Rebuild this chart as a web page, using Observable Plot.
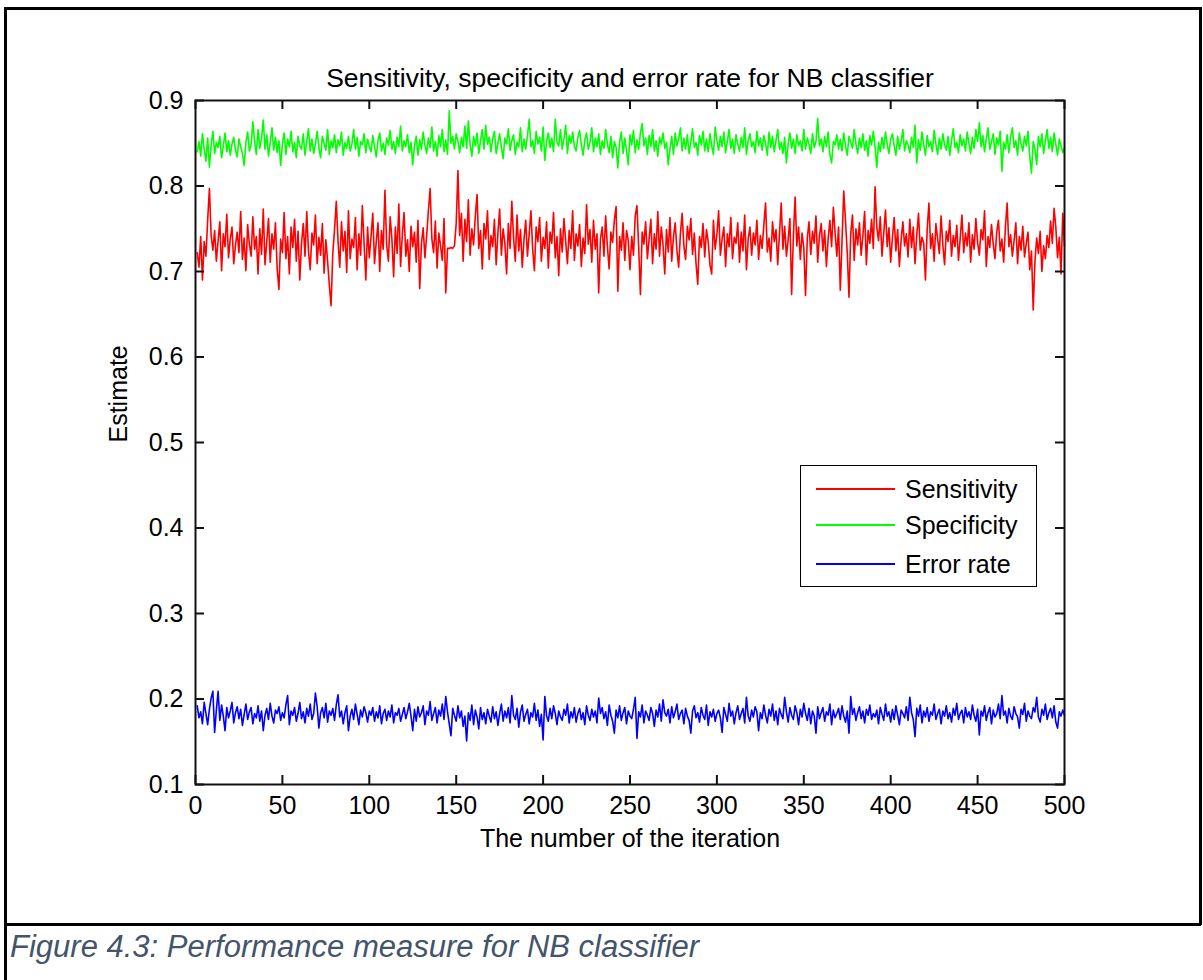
<!DOCTYPE html>
<html>
<head>
<meta charset="utf-8">
<script src="https://cdn.jsdelivr.net/npm/d3@7"></script>
<script src="https://cdn.jsdelivr.net/npm/@observablehq/plot@0.6"></script>
<style>
  html, body { margin: 0; padding: 0; background: #fff; }
  body { width: 1203px; height: 980px; position: relative; overflow: hidden; font-family: Arial, "Liberation Sans", sans-serif; }
  #chart { position: absolute; left: 0; top: 0; }
  .bl { position: absolute; background: #000; }
  #legend { position: absolute; left: 800px; top: 465px; width: 237px; height: 122px; box-sizing: border-box; border: 1.5px solid #000; background: #fff; }
  .row { position: absolute; left: 15px; height: 30px; display: flex; align-items: center; font-size: 25px; color: #000; }
  .row .sw { display: inline-block; width: 79px; height: 2px; margin-right: 10px; }
  #caption { position: absolute; left: 10px; top: 929px; font-size: 31px; font-style: italic; color: #44546a; white-space: nowrap; }
</style>
</head>
<body>
<div id="chart"></div>
<div class="bl" style="left:4px;top:7px;width:1197px;height:2.5px"></div>
<div class="bl" style="left:4px;top:7px;width:2.5px;height:973px"></div>
<div class="bl" style="left:1199px;top:7px;width:2.5px;height:918px"></div>
<div class="bl" style="left:4px;top:923px;width:1197px;height:2.5px"></div>
<div id="legend"></div>
<div id="caption"></div>
<script>
// ---- data ----
const chartTitle = "Sensitivity, specificity and error rate for NB classifier";
const xLabel = "The number of the iteration";
const yLabel = "Estimate";
const captionText = "Figure 4.3: Performance measure for NB classifier";
const seriesNames = ["Sensitivity", "Specificity", "Error rate"];
const seriesColors = ["#ff0000", "#00ff00", "#0000ff"];
const xTicks = [0, 50, 100, 150, 200, 250, 300, 350, 400, 450, 500];
const yTicks = [0.1, 0.2, 0.3, 0.4, 0.5, 0.6, 0.7, 0.8, 0.9];

const sensitivity = [
.722,.705,.741,.690,.735,.718,.760,.797,.742,.725,
.748,.712,.736,.758,.701,.744,.729,.767,.716,.738,
.752,.709,.731,.746,.722,.770,.714,.739,.701,.755,
.732,.718,.764,.726,.741,.697,.750,.720,.773,.708,
.735,.762,.711,.744,.726,.757,.703,.679,.738,.722,
.769,.715,.741,.697,.752,.728,.761,.712,.747,.690,
.733,.756,.718,.770,.724,.702,.745,.731,.766,.709,
.740,.719,.756,.698,.737,.712,.684,.660,.721,.749,
.782,.736,.705,.758,.724,.747,.699,.771,.715,.738,
.728,.763,.702,.744,.719,.777,.733,.690,.752,.716,
.741,.768,.709,.735,.757,.700,.748,.726,.795,.731,
.712,.764,.738,.694,.752,.721,.779,.706,.743,.769,
.718,.737,.700,.753,.729,.746,.711,.760,.680,.733,
.751,.716,.742,.771,.797,.738,.722,.759,.704,.745,
.730,.713,.762,.675,.727,.727,.728,.727,.730,.756,
.818,.742,.768,.712,.761,.735,.784,.719,.750,.731,
.765,.790,.727,.748,.703,.756,.738,.771,.714,.742,
.729,.761,.708,.745,.773,.719,.750,.733,.697,.756,
.727,.782,.740,.712,.766,.724,.749,.705,.737,.760,
.718,.744,.771,.726,.701,.752,.735,.763,.712,.740,
.727,.758,.704,.746,.733,.769,.716,.741,.695,.750,
.723,.762,.735,.709,.748,.727,.771,.713,.744,.730,
.755,.706,.739,.721,.778,.732,.749,.711,.760,.726,
.744,.675,.738,.752,.718,.765,.729,.703,.746,.734,
.760,.776,.677,.741,.725,.757,.713,.748,.736,.702,
.741,.719,.765,.777,.728,.673,.746,.732,.758,.715,
.738,.761,.709,.744,.726,.770,.718,.752,.731,.697,
.749,.723,.763,.712,.740,.757,.725,.705,.744,.768,
.730,.714,.753,.737,.762,.720,.745,.709,.685,.741,
.728,.756,.717,.749,.735,.708,.697,.760,.726,.743,
.771,.719,.738,.752,.706,.744,.729,.763,.715,.740,
.733,.757,.711,.746,.724,.766,.702,.738,.752,.719,
.745,.731,.760,.714,.742,.727,.754,.780,.723,.739,
.712,.758,.735,.749,.708,.744,.780,.726,.753,.718,
.737,.762,.673,.741,.787,.730,.752,.714,.745,.728,
.672,.739,.758,.720,.747,.733,.765,.711,.742,.756,
.724,.748,.706,.738,.760,.729,.775,.745,.718,.752,
.678,.736,.794,.759,.722,.670,.744,.766,.713,.750,
.731,.757,.719,.742,.770,.708,.748,.733,.761,.727,
.799,.752,.736,.764,.718,.745,.772,.729,.751,.711,
.740,.763,.724,.749,.706,.737,.758,.730,.744,.717,
.761,.728,.752,.709,.743,.768,.725,.740,.733,.690,
.750,.780,.727,.744,.712,.756,.738,.721,.765,.731,
.708,.747,.735,.760,.718,.742,.729,.754,.713,.739,
.766,.722,.745,.730,.757,.711,.743,.726,.762,.734,
.719,.749,.737,.771,.706,.741,.728,.755,.732,.715,
.746,.760,.724,.738,.711,.752,.780,.729,.743,.718,
.736,.757,.709,.741,.725,.753,.717,.733,.746,.702,
.724,.655,.712,.739,.721,.747,.700,.730,.715,.742,
.728,.759,.733,.774,.752,.716,.740,.697,.768,.730];

const specificity = [
.840,.852,.835,.861,.843,.829,.856,.822,.848,.864,
.838,.851,.845,.858,.833,.847,.862,.840,.853,.836,
.849,.857,.842,.834,.855,.846,.838,.824,.851,.863,
.841,.848,.875,.852,.837,.866,.844,.856,.877,.843,
.860,.835,.851,.868,.842,.857,.839,.853,.824,.849,
.862,.837,.855,.846,.864,.840,.851,.833,.858,.847,
.843,.861,.836,.852,.867,.841,.855,.838,.849,.864,
.845,.833,.858,.850,.842,.866,.837,.853,.845,.860,
.839,.854,.847,.863,.836,.851,.844,.858,.841,.849,
.866,.843,.857,.835,.852,.848,.861,.839,.855,.846,
.840,.859,.846,.834,.853,.862,.841,.850,.837,.856,
.848,.865,.843,.852,.838,.857,.846,.870,.841,.853,
.846,.860,.839,.851,.825,.847,.858,.836,.854,.843,
.863,.848,.838,.856,.845,.869,.841,.852,.835,.859,
.846,.866,.840,.854,.837,.888,.850,.858,.843,.861,
.852,.839,.857,.846,.870,.844,.876,.849,.835,.858,
.847,.862,.838,.853,.866,.843,.871,.849,.857,.840,
.855,.864,.838,.850,.861,.845,.832,.856,.849,.867,
.842,.853,.860,.837,.851,.846,.868,.840,.855,.843,
.859,.878,.846,.853,.838,.864,.849,.857,.841,.869,
.830,.852,.862,.845,.856,.840,.878,.851,.847,.866,
.843,.855,.871,.838,.859,.850,.863,.846,.841,.857,
.865,.848,.836,.854,.862,.843,.851,.868,.840,.856,
.846,.861,.837,.853,.844,.866,.849,.839,.858,.833,
.852,.845,.821,.851,.863,.838,.856,.842,.825,.860,
.848,.865,.839,.854,.843,.862,.873,.847,.856,.837,
.859,.846,.866,.841,.853,.835,.857,.849,.862,.844,
.851,.825,.843,.858,.837,.862,.847,.855,.868,.841,
.856,.843,.860,.838,.852,.867,.845,.851,.836,.859,
.848,.864,.841,.855,.840,.861,.847,.837,.869,.853,
.842,.858,.846,.863,.839,.852,.866,.844,.855,.838,
.860,.849,.841,.857,.845,.868,.837,.853,.861,.846,
.852,.839,.864,.847,.856,.842,.859,.850,.836,.863,
.845,.858,.840,.853,.866,.843,.851,.838,.857,.827,
.849,.862,.844,.855,.838,.860,.847,.853,.841,.866,
.843,.856,.849,.838,.861,.845,.852,.879,.847,.855,
.840,.858,.846,.863,.837,.827,.852,.848,.860,.843,
.855,.841,.862,.847,.836,.858,.851,.844,.866,.849,
.838,.856,.845,.861,.842,.853,.835,.859,.848,.864,
.846,.822,.851,.840,.857,.844,.863,.849,.838,.855,
.861,.847,.836,.858,.843,.852,.866,.841,.853,.848,
.839,.857,.845,.871,.827,.854,.842,.863,.848,.836,
.859,.846,.852,.840,.865,.849,.837,.856,.843,.861,
.848,.842,.858,.836,.853,.867,.845,.851,.839,.860,
.847,.855,.841,.863,.850,.838,.857,.844,.866,.852,
.874,.846,.859,.840,.855,.868,.843,.852,.861,.837,
.856,.848,.864,.817,.851,.843,.860,.839,.857,.868,
.845,.853,.836,.862,.849,.841,.858,.847,.864,.835,
.815,.852,.843,.825,.858,.846,.861,.838,.853,.866,
.844,.857,.840,.862,.849,.836,.855,.847,.839,.845];

const errorRate = [
.192,.178,.185,.171,.196,.183,.170,.188,.201,.209,
.161,.187,.209,.175,.193,.180,.163,.190,.178,.186,
.196,.172,.184,.191,.177,.188,.169,.182,.194,.176,
.185,.190,.171,.183,.178,.192,.174,.186,.163,.181,
.189,.176,.195,.180,.172,.187,.183,.191,.175,.184,
.178,.193,.204,.170,.186,.181,.190,.174,.183,.196,
.177,.185,.172,.189,.180,.194,.176,.183,.207,.191,
.166,.184,.190,.178,.195,.173,.186,.181,.189,.175,
.193,.205,.179,.186,.171,.184,.192,.163,.180,.188,
.176,.194,.182,.170,.187,.179,.191,.184,.173,.186,
.181,.190,.174,.185,.178,.192,.171,.183,.188,.175,
.186,.179,.193,.172,.184,.181,.189,.174,.182,.190,
.177,.185,.195,.180,.163,.188,.174,.191,.179,.184,
.192,.170,.186,.181,.197,.175,.183,.190,.172,.187,
.180,.194,.176,.203,.185,.171,.157,.189,.181,.174,
.192,.178,.186,.168,.180,.151,.184,.175,.193,.170,
.187,.179,.165,.190,.176,.184,.171,.188,.180,.173,
.191,.177,.185,.169,.183,.194,.174,.186,.178,.190,
.172,.204,.181,.176,.189,.167,.185,.193,.174,.182,
.188,.171,.184,.179,.195,.175,.187,.168,.182,.152,
.203,.180,.174,.189,.177,.192,.183,.170,.186,.179,
.175,.188,.181,.194,.172,.185,.178,.190,.173,.183,
.189,.176,.184,.170,.192,.181,.175,.188,.179,.186,
.172,.201,.183,.190,.177,.185,.169,.193,.181,.174,
.160,.187,.178,.192,.175,.184,.190,.171,.186,.180,
.177,.188,.202,.154,.185,.179,.193,.172,.186,.181,
.175,.190,.183,.168,.187,.179,.194,.174,.199,.184,
.180,.188,.172,.191,.178,.185,.194,.176,.183,.187,
.171,.189,.180,.175,.160,.186,.192,.178,.184,.173,
.190,.181,.176,.193,.169,.185,.179,.188,.174,.183,
.187,.178,.161,.190,.182,.174,.195,.180,.186,.171,
.184,.192,.176,.183,.189,.172,.202,.180,.174,.187,
.179,.191,.185,.163,.184,.177,.193,.181,.172,.188,
.180,.194,.175,.186,.170,.189,.182,.177,.202,.185,
.173,.190,.181,.176,.192,.184,.170,.188,.179,.195,
.183,.175,.189,.171,.186,.180,.160,.191,.177,.184,
.190,.174,.185,.181,.194,.170,.187,.178,.183,.189,
.176,.192,.180,.173,.186,.160,.203,.182,.189,.175,
.184,.191,.177,.186,.172,.188,.181,.193,.176,.183,
.179,.187,.171,.190,.182,.175,.194,.180,.185,.173,
.188,.176,.192,.181,.170,.187,.183,.178,.191,.175,
.202,.184,.176,.156,.189,.180,.193,.172,.186,.179,
.190,.174,.185,.181,.194,.176,.183,.188,.171,.186,
.180,.192,.177,.184,.173,.189,.181,.195,.176,.183,
.187,.172,.190,.179,.185,.176,.193,.181,.174,.188,
.158,.186,.180,.192,.175,.184,.190,.171,.187,.179,
.183,.194,.177,.204,.181,.186,.172,.189,.180,.176,
.191,.183,.179,.166,.188,.182,.195,.174,.186,.180,
.177,.190,.185,.202,.179,.173,.188,.181,.194,.176,
.184,.189,.178,.192,.173,.166,.185,.180,.187,.181];

// ---- build table ----
const seriesValues = [sensitivity, specificity, errorRate];
const table = seriesValues.flatMap((vals, s) =>
  vals.map((v, i) => ({ iteration: i + 1, value: v, series: seriesNames[s] })));

const W = 1203, H = 900;
const mTop = 100, mBottom = 116, mLeft = 195, mRight = 139;
const frameH = H - mTop - mBottom, frameW = W - mLeft - mRight;
const tickLen = 9;

const chart = Plot.plot({
  width: W, height: H,
  marginTop: mTop, marginBottom: mBottom, marginLeft: mLeft, marginRight: mRight,
  style: { fontFamily: "Arial, 'Liberation Sans', sans-serif", fontSize: "25px", color: "#000", background: "transparent", overflow: "visible" },
  x: { domain: [0, 500] },
  y: { domain: [0.1, 0.9] },
  color: { domain: seriesNames, range: seriesColors },
  marks: [
    Plot.lineY(table, { x: "iteration", y: "value", z: "series", stroke: "series", strokeWidth: 1.6 }),
    Plot.frame({ stroke: "#111", strokeWidth: 2 }),
    Plot.tickX(xTicks, { x: d => d, insetTop: frameH - tickLen, stroke: "#111", strokeWidth: 2 }),
    Plot.tickX(xTicks, { x: d => d, insetBottom: frameH - tickLen, stroke: "#111", strokeWidth: 2 }),
    Plot.tickY(yTicks, { y: d => d, insetRight: frameW - tickLen, stroke: "#111", strokeWidth: 2 }),
    Plot.tickY(yTicks, { y: d => d, insetLeft: frameW - tickLen, stroke: "#111", strokeWidth: 2 }),
    Plot.axisX(xTicks, { tickSize: 0, tickPadding: 12, label: null, fontSize: 25 }),
    Plot.axisY(yTicks, { tickSize: 0, tickPadding: 12, label: null, tickFormat: d => d.toFixed(1), fontSize: 25 }),
    Plot.text([chartTitle], { text: d => d, frameAnchor: "top", dy: -32, fontSize: 26.5 }),
    Plot.text([xLabel], { text: d => d, frameAnchor: "bottom", dy: 62, fontSize: 25 }),
    Plot.text([yLabel], { text: d => d, frameAnchor: "left", dx: -77, rotate: -90, fontSize: 25 })
  ]
});
document.getElementById("chart").appendChild(chart);

// ---- legend ----
const legend = document.getElementById("legend");
const rowTops = [8, 44, 83];
seriesNames.forEach((name, i) => {
  const row = document.createElement("div");
  row.className = "row";
  row.style.top = rowTops[i] + "px";
  const sw = document.createElement("span");
  sw.className = "sw";
  sw.style.background = seriesColors[i];
  const t = document.createElement("span");
  t.textContent = name;
  row.appendChild(sw); row.appendChild(t);
  legend.appendChild(row);
});
document.getElementById("caption").textContent = captionText;
</script>
</body>
</html>
